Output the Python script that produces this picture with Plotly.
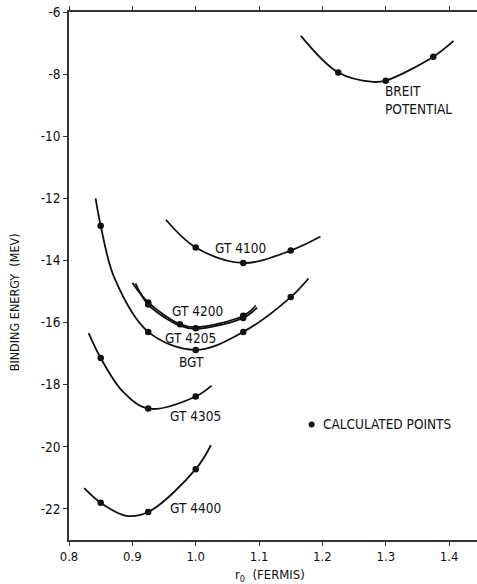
import plotly.graph_objects as go

# Calculated binding energies (MeV) at r0 (fermis), per potential
breit_x = [1.225, 1.300, 1.375]
breit_y = [-7.95, -8.21, -7.44]
gt4100_x = [1.000, 1.075, 1.150]
gt4100_y = [-13.58, -14.08, -13.68]
gt4200_x = [0.925, 0.975, 1.075]
gt4200_y = [-15.35, -16.05, -15.78]
gt4205_x = [0.925, 1.000, 1.075]
gt4205_y = [-15.42, -16.18, -15.85]
bgt_x = [0.850, 0.925, 1.000, 1.075, 1.150]
bgt_y = [-12.88, -16.30, -16.88, -16.30, -15.18]
gt4305_x = [0.850, 0.925, 1.000]
gt4305_y = [-17.14, -18.77, -18.38]
gt4400_x = [0.850, 0.925, 1.000]
gt4400_y = [-21.80, -22.10, -20.72]

# Hand-drawn smooth curves through the calculated points (traced positions)
breit_cx = [1.166, 1.225, 1.280, 1.300, 1.375, 1.407]
breit_cy = [-6.77, -7.95, -8.25, -8.21, -7.44, -6.93]
gt4100_cx = [0.953, 1.000, 1.075, 1.150, 1.197]
gt4100_cy = [-12.69, -13.58, -14.08, -13.68, -13.23]
gt4200_cx = [0.900, 0.925, 0.975, 1.000, 1.075, 1.095]
gt4200_cy = [-14.72, -15.35, -16.05, -16.15, -15.78, -15.45]
gt4205_cx = [0.905, 0.925, 0.975, 1.000, 1.075, 1.097]
gt4205_cy = [-14.74, -15.42, -16.10, -16.20, -15.85, -15.52]
bgt_cx = [0.842, 0.850, 0.872, 0.925, 1.000, 1.075, 1.150, 1.178]
bgt_cy = [-12.00, -12.88, -14.58, -16.30, -16.88, -16.30, -15.18, -14.58]
gt4305_cx = [0.831, 0.850, 0.885, 0.925, 1.000, 1.025]
gt4305_cy = [-16.34, -17.14, -18.22, -18.77, -18.38, -18.03]
gt4400_cx = [0.824, 0.850, 0.890, 0.925, 1.000, 1.024]
gt4400_cy = [-21.33, -21.80, -22.22, -22.10, -20.72, -19.95]

x_ticks = [0.8, 0.9, 1.0, 1.1, 1.2, 1.3, 1.4]
x_tick_text = ["0.8", "0.9", "1.0", "1.1", "1.2", "1.3", "1.4"]
y_ticks = [-22, -20, -18, -16, -14, -12, -10, -8, -6]
y_tick_text = ["-22", "-20", "-18", "-16", "-14", "-12", "-10", "-8", "-6"]

FONT = "DejaVu Sans Condensed, Liberation Sans Narrow, Arial Narrow, sans-serif"
INK = "#111111"

fig = go.Figure()

curves = [
    (breit_cx, breit_cy, breit_x, breit_y),
    (gt4100_cx, gt4100_cy, gt4100_x, gt4100_y),
    (gt4200_cx, gt4200_cy, gt4200_x, gt4200_y),
    (gt4205_cx, gt4205_cy, gt4205_x, gt4205_y),
    (bgt_cx, bgt_cy, bgt_x, bgt_y),
    (gt4305_cx, gt4305_cy, gt4305_x, gt4305_y),
    (gt4400_cx, gt4400_cy, gt4400_x, gt4400_y),
]
for cx, cy, px, py in curves:
    fig.add_trace(go.Scatter(
        x=cx, y=cy, mode="lines",
        line=dict(color=INK, width=1.8, shape="spline", smoothing=1.0),
        hoverinfo="skip", showlegend=False))
    fig.add_trace(go.Scatter(
        x=px, y=py, mode="markers",
        marker=dict(color=INK, size=6.5),
        showlegend=False))

labels = [
    (1.070, -13.60, "GT 4100", "center"),
    (1.003, -15.63, "GT 4200", "center"),
    (0.991, -16.50, "GT 4205", "center"),
    (0.994, -17.26, "BGT", "center"),
    (1.000, -19.02, "GT 4305", "center"),
    (1.000, -21.97, "GT 4400", "center"),
    (1.296, -8.835, "BREIT<br>POTENTIAL", "left"),
    (1.197, -19.28, "CALCULATED POINTS", "left"),
]
for x, y, t, anchor in labels:
    fig.add_annotation(x=x, y=y, text=t, showarrow=False, xanchor=anchor,
                       yanchor="middle", align="left",
                       font=dict(family=FONT, size=13.5, color=INK))

# Legend dot for calculated points
fig.add_trace(go.Scatter(x=[1.183], y=[-19.28], mode="markers",
                         marker=dict(color=INK, size=6), showlegend=False,
                         hoverinfo="skip"))

fig.add_annotation(xref="paper", yref="y", x=-0.135, y=-15.35,
                   text="BINDING ENERGY  (MEV)", textangle=-90, showarrow=False,
                   xanchor="center", yanchor="middle",
                   font=dict(family=FONT, size=12.5, color=INK))
fig.add_annotation(xref="x", yref="paper", x=1.117, y=-0.068,
                   text="r<sub>0</sub>  (FERMIS)", showarrow=False,
                   xanchor="center", yanchor="middle",
                   font=dict(family=FONT, size=13, color=INK))

fig.update_xaxes(range=[0.8, 1.444], tickvals=x_ticks, ticktext=x_tick_text,
                 showline=True, linecolor="#333", linewidth=1.5, mirror="ticks",
                 ticks="outside", ticklen=4, tickcolor="#333", showgrid=False,
                 zeroline=False, tickfont=dict(family=FONT, size=13, color=INK))
fig.update_yaxes(range=[-23, -6], tickvals=y_ticks, ticktext=y_tick_text,
                 showline=True, linecolor="#333", linewidth=1.5,
                 ticks="outside", ticklen=4, tickcolor="#333", showgrid=False,
                 zeroline=False, tickfont=dict(family=FONT, size=13.5, color=INK))

fig.update_layout(width=477, height=584, margin=dict(l=69, r=0, t=12, b=44),
                  plot_bgcolor="white", paper_bgcolor="white")

fig.write_html("out.html")
